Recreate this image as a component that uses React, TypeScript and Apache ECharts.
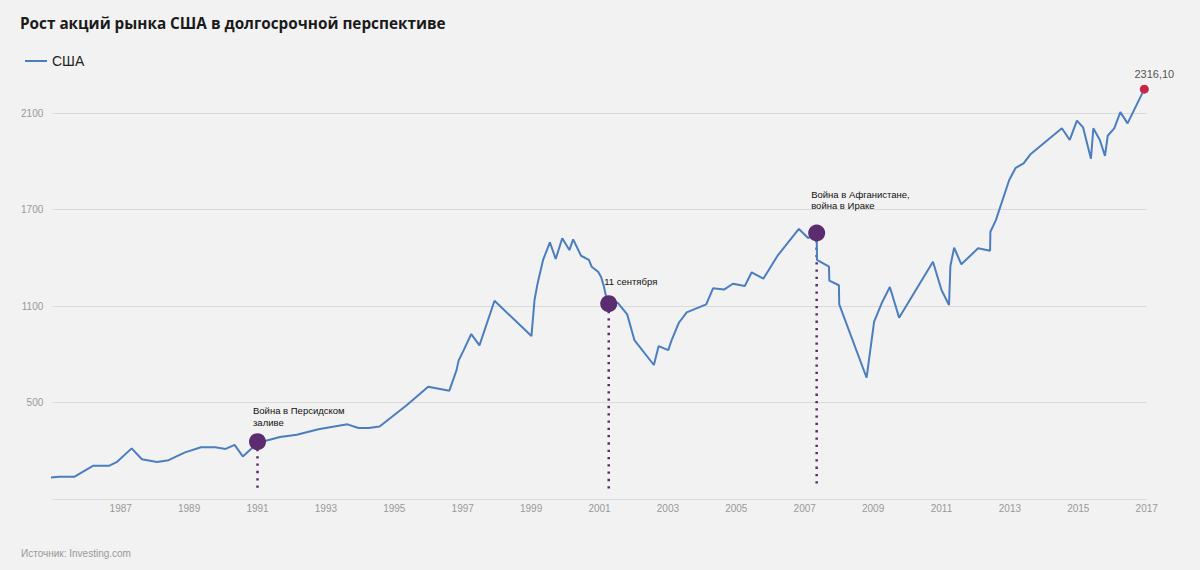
import React, { useEffect, useRef } from 'react';
import * as echarts from 'echarts';

// Decimal year (x) and index level (y)
const years = [
  1984.92, 1985.2, 1985.64, 1986.2, 1986.67, 1986.88, 1987.32, 1987.62, 1988.06, 1988.4,
  1988.88, 1989.35, 1989.76, 1990.07, 1990.33, 1990.57, 1990.85, 1991.05, 1991.3, 1991.66,
  1992.15, 1992.78, 1993.63, 1993.95, 1994.25, 1994.57, 1995.37, 1995.99, 1996.61, 1996.82,
  1996.88, 1997.03, 1997.25, 1997.49, 1997.93, 1999.01, 1999.1, 1999.18, 1999.35, 1999.55,
  1999.72, 1999.91, 2000.12, 2000.23, 2000.46, 2000.69, 2000.77, 2000.96, 2001.05, 2001.13,
  2001.2, 2001.27, 2001.53, 2001.81, 2002.02, 2002.59, 2002.73, 2003.01, 2003.11, 2003.32,
  2003.55, 2004.12, 2004.32, 2004.64, 2004.9, 2005.25, 2005.45, 2005.79, 2006.22, 2006.83,
  2007.1, 2007.35, 2007.36, 2007.71, 2007.72, 2008.0, 2008.01, 2008.81, 2009.03, 2009.25,
  2009.49, 2009.76, 2010.75, 2011.0, 2011.22, 2011.26, 2011.37, 2011.58, 2012.07, 2012.42,
  2012.43, 2012.59, 2012.98, 2013.17, 2013.4, 2013.61, 2014.52, 2014.75, 2014.96, 2015.14,
  2015.37, 2015.44, 2015.63, 2015.78, 2015.86, 2016.05, 2016.23, 2016.44, 2016.93,
];
const values = [
  182, 187, 187, 248, 248, 267, 343, 283, 268, 278,
  321, 349, 349, 340, 362, 299, 347, 370, 388, 406,
  418, 448, 475, 455, 455, 463, 581, 682, 660, 773,
  825, 883, 971, 909, 1154, 960, 1158, 1240, 1378, 1475,
  1383, 1497, 1432, 1491, 1401, 1378, 1341, 1313, 1283, 1231,
  1170, 1138, 1143, 1079, 938, 801, 905, 883, 938, 1033,
  1090, 1134, 1222, 1215, 1247, 1235, 1310, 1275, 1405, 1548,
  1498, 1526, 1378, 1341, 1264, 1239, 1134, 731, 1039, 1140,
  1229, 1061, 1368, 1213, 1130, 1345, 1445, 1354, 1442, 1429,
  1533, 1597, 1817, 1884, 1908, 1960, 2101, 2037, 2143, 2106,
  1934, 2101, 2037, 1949, 2060, 2101, 2190, 2128, 2316.1,
];

// Events
const eventNames = ['Война в Персидском\nзаливе', '11 сентября', 'Война в Афганистане,\nвойна в Ираке'];
const eventYears = [1991.0, 2001.27, 2007.35];
const eventValues = [380, 1138, 1526];
const eventBase = 122;

const lastValueLabel = '2316,10';

// Axis
const xMin = 1985;
const xMax = 2017;
const yTickLabels = ['500', '1100', '1700', '2100'];
const yDataMin = 65;
const yDataMax = 2450;
const yGridSteps = 4.5;

const FONT = "'Liberation Sans', Arial, sans-serif";

export default function App() {
  const ref = useRef<HTMLDivElement>(null);
  useEffect(() => {
    document.body.style.margin = '0';
    document.body.style.background = '#f2f2f2';
    const chart = echarts.init(ref.current as HTMLDivElement, null, { renderer: 'svg' });
    const lineData = years.map((y, i) => [y, values[i]]);
    const labelOffsets: [number, number][] = [[4, -28], [4, -19], [3, -36]];
    const option: any = {
      animation: false,
      backgroundColor: '#f2f2f2',
      title: {
        text: 'Рост акций рынка США в долгосрочной перспективе',
        left: 20,
        top: 15,
        padding: 0,
        textStyle: { fontFamily: "'Open Sans', sans-serif", fontWeight: 'bold', fontSize: 15.3, color: '#1a1a1a' },
      },
      legend: {
        data: ['США'],
        left: 25,
        top: 54,
        padding: 0,
        icon: 'rect',
        itemWidth: 22,
        itemHeight: 2,
        itemGap: 6,
        textStyle: { fontFamily: FONT, fontSize: 14, color: '#222' },
      },
      grid: { left: 52.3, right: 53.3, top: 64.75, bottom: 71 },
      xAxis: {
        type: 'value',
        min: xMin,
        max: xMax,
        interval: 2,
        axisLine: { show: false },
        axisTick: { show: false },
        splitLine: { show: false },
        axisLabel: {
          showMinLabel: false,
          color: '#999',
          fontSize: 10,
          fontFamily: FONT,
          margin: 4,
          formatter: (v: number) => String(v),
        },
      },
      yAxis: [
        { type: 'value', min: yDataMin, max: yDataMax, show: false },
        {
          type: 'value',
          min: 0,
          max: yGridSteps,
          interval: 1,
          position: 'left',
          axisLine: { show: false },
          axisTick: { show: false },
          axisLabel: {
            showMaxLabel: false,
            color: '#999',
            fontSize: 10,
            fontFamily: FONT,
            margin: 9,
            formatter: (v: number) => (v >= 1 && v <= yTickLabels.length ? yTickLabels[v - 1] : ''),
          },
          splitLine: { show: true, showMaxLine: false, lineStyle: { color: '#dadada', width: 1 } },
        },
      ],
      series: [
        {
          name: 'США',
          type: 'line',
          data: lineData,
          yAxisIndex: 0,
          symbol: 'none',
          showSymbol: false,
          clip: false,
          z: 3,
          itemStyle: { color: '#4a7ebf' },
          lineStyle: { color: '#4a7ebf', width: 2 },
        },
        ...eventYears.map((ey, i) => ({
          type: 'line',
          yAxisIndex: 0,
          data: [[ey, eventValues[i]], [ey, eventBase]],
          symbol: 'none',
          z: 2,
          lineStyle: { color: '#5b2c6f', width: 2.5, type: [2.3, 5] },
        })),
        {
          type: 'scatter',
          yAxisIndex: 0,
          symbolSize: 17,
          z: 5,
          itemStyle: { color: '#5b2c6f', opacity: 1 },
          data: eventYears.map((ey, i) => ({
            value: [ey, eventValues[i]],
            label: {
              show: true,
              formatter: eventNames[i],
              position: labelOffsets[i],
              align: 'left',
              verticalAlign: 'top',
              fontFamily: FONT,
              fontSize: 9.5,
              lineHeight: 11.5,
              color: '#111',
            },
          })),
        },
        {
          type: 'scatter',
          yAxisIndex: 0,
          symbolSize: 9,
          z: 6,
          itemStyle: { color: '#c8254e', opacity: 1 },
          data: [
            {
              value: [years[years.length - 1], values[values.length - 1]],
              label: {
                show: true,
                formatter: lastValueLabel,
                position: 'top',
                offset: [10, 0],
                fontFamily: FONT,
                fontSize: 11,
                color: '#555',
              },
            },
          ],
        },
      ],
      graphic: [
        {
          type: 'text',
          left: 21,
          top: 548,
          style: { text: 'Источник: Investing.com', fontFamily: FONT, fontSize: 10, fill: '#999' },
        },
      ],
    };
    chart.setOption(option);
    return () => chart.dispose();
  }, []);
  return <div ref={ref} style={{ width: 1200, height: 570 }} />;
}
